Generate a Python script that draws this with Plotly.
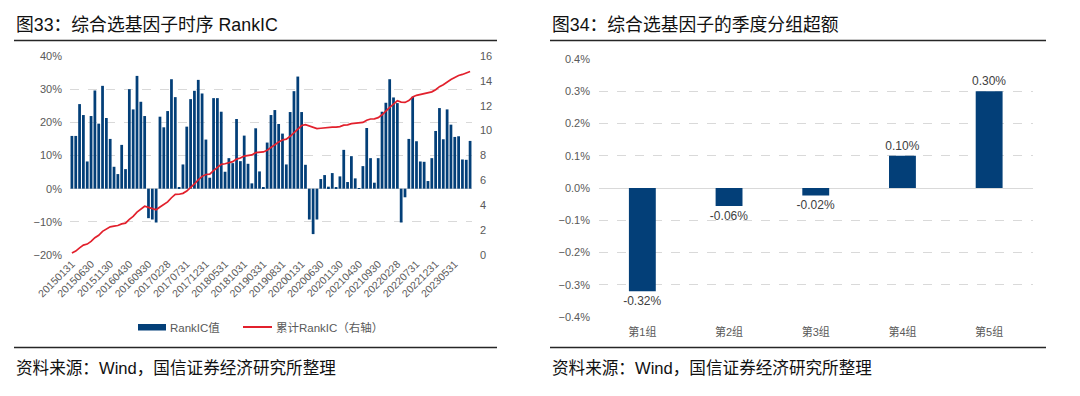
import numpy as np
import pandas as pd
import plotly.graph_objects as go

# ---------------- data ----------------
months = pd.date_range('2015-01-31', periods=105, freq=pd.offsets.MonthEnd())
dates = [d.strftime('%Y%m%d') for d in months]

# monthly RankIC (%)
rankic = [
    15.9, 15.9, 25.5, 22.2, 8.2, 21.9, 29.6, 19.6, 31.0, 21.3,
    15.0, 6.6, 4.4, 13.2, 5.9, 30.0, 23.9, 34.0, 26.2, 21.9,
    -8.9, -9.3, -10.2, 21.7, 18.5, 23.4, 33.0, 27.6, 0.4, 7.3,
    18.7, 27.0, 29.5, 32.8, 28.7, 14.8, 3.3, 27.3, 27.3, 23.2,
    5.1, 9.2, 7.7, 21.0, 8.3, 16.0, 7.5, 1.6, 18.2, 5.2,
    0.4, 13.9, 22.2, 23.7, 19.5, 16.6, 7.3, 23.1, 29.4, 33.8,
    23.1, 7.2, -9.3, -13.7, -9.3, 2.9, 4.1, 0.6, 4.7, 0.3,
    3.7, 11.7, 2.0, 9.8, 3.1, 0.1, 6.8, 18.3, 9.2, 1.8,
    9.2, 23.2, 25.9, 33.0, 27.5, 25.8, -10.2, -2.6, 15.0, 27.7,
    14.3, 8.2, 8.1, 2.3, 9.2, 17.4, 24.3, 14.9, 23.9, 19.3,
    15.6, 15.8, 8.8, 8.7, 14.4,
]
# cumulative RankIC (right axis) = running sum of the monthly RankIC
cum_rankic = np.cumsum(np.array(rankic) / 100.0)
tick_labels = dates[::5]

groups = ['第1组', '第2组', '第3组', '第4组', '第5组']
group_excess = [-0.32, -0.056, -0.023, 0.10, 0.30]   # %
group_text = [f'{v:.2f}%' for v in group_excess]

# ---------------- style ----------------
W, H = 1080, 396
NAVY = '#033F78'
RED = '#E2202C'
GRAY = '#595959'
GRID = '#D9D9D9'
FONT = 'Liberation Sans, Arial, Noto Sans CJK SC, sans-serif'


def px(x):
    return x / W


def py(y):
    return 1 - y / H


fig = go.Figure()

fig.add_trace(go.Bar(
    x=dates, y=rankic, xaxis='x', yaxis='y',
    marker=dict(color=NAVY, line=dict(width=0)),
    showlegend=False, name='RankIC值',
))
fig.add_trace(go.Scatter(
    x=dates, y=cum_rankic, xaxis='x', yaxis='y2', mode='lines',
    line=dict(color=RED, width=1.7), showlegend=False, name='累计RankIC（右轴）',
))
fig.add_trace(go.Bar(
    x=groups, y=group_excess, xaxis='x2', yaxis='y3',
    marker=dict(color=NAVY, line=dict(width=0)),
    text=group_text, textposition='outside', cliponaxis=False,
    constraintext='none', width=0.31,
    textfont=dict(size=12, color='#404040', family=FONT),
    showlegend=False,
))

tickfont = dict(size=11, color=GRAY, family=FONT)

fig.update_layout(
    width=W, height=H, autosize=False,
    margin=dict(l=0, r=0, t=0, b=0),
    paper_bgcolor='white', plot_bgcolor='white',
    font=dict(family=FONT, color=GRAY),
    barmode='group',
    xaxis=dict(
        domain=[px(70), px(472)], anchor='y', type='category',
        range=[-0.5, len(dates) - 0.5],
        tickmode='array', tickvals=tick_labels, ticktext=tick_labels,
        tickangle=-45, tickfont=dict(size=10.5, color=GRAY, family=FONT),
        showgrid=False, showline=False, zeroline=False, ticks='',
        automargin=False,
    ),
    yaxis=dict(
        domain=[py(255), py(56)], anchor='x',
        range=[-20, 40], dtick=10, ticksuffix='%',
        showgrid=True, gridcolor=GRID, griddash='dash', gridwidth=1,
        zeroline=True, zerolinecolor=GRID, zerolinewidth=1.2,
        showline=False, ticks='', tickfont=tickfont,
        ticklabelstandoff=7, automargin=False,
    ),
    yaxis2=dict(
        overlaying='y', anchor='x', side='right',
        range=[0, 16], dtick=2,
        showgrid=False, zeroline=False, showline=False, ticks='',
        tickfont=tickfont, ticklabelstandoff=7, automargin=False,
    ),
    xaxis2=dict(
        domain=[px(599), px(1032.5)], anchor='y3', type='category',
        showgrid=False, showline=False, zeroline=False, ticks='',
        tickfont=tickfont, ticklabelstandoff=7, automargin=False,
    ),
    yaxis3=dict(
        domain=[py(317), py(59)], anchor='x2',
        range=[-0.4, 0.4], dtick=0.1, tickformat='.1f', ticksuffix='%',
        showgrid=True, gridcolor=GRID, griddash='dash', gridwidth=1,
        zeroline=True, zerolinecolor=GRID, zerolinewidth=1.2,
        showline=False, ticks='', tickfont=tickfont,
        ticklabelstandoff=8, automargin=False,
    ),
    bargap=0.28,
)

shapes = []
annotations = []

# titles + rules
for x0, x1, title in [(14, 497, '图33：综合选基因子时序 RankIC'),
                      (550, 1046, '图34：综合选基因子的季度分组超额')]:
    annotations.append(dict(
        x=px(x0), y=py(25), xref='paper', yref='paper', text=title,
        showarrow=False, xanchor='left', yanchor='middle',
        font=dict(size=17.8, color='#111111', family=FONT),
    ))
    shapes.append(dict(type='line', xref='paper', yref='paper',
                       x0=px(x0), x1=px(x1), y0=py(40.5), y1=py(40.5),
                       line=dict(color='#262626', width=1.5)))
    shapes.append(dict(type='line', xref='paper', yref='paper',
                       x0=px(x0), x1=px(x1), y0=py(347.5), y1=py(347.5),
                       line=dict(color='#262626', width=1.5)))
    annotations.append(dict(
        x=px(x0), y=py(368), xref='paper', yref='paper',
        text='资料来源：Wind，国信证券经济研究所整理',
        showarrow=False, xanchor='left', yanchor='middle',
        font=dict(size=16.6, color='#111111', family=FONT),
    ))

# legend (left panel)
shapes.append(dict(type='rect', xref='paper', yref='paper',
                   x0=px(138), x1=px(166), y0=py(330.5), y1=py(324),
                   fillcolor=NAVY, line=dict(width=0)))
shapes.append(dict(type='line', xref='paper', yref='paper',
                   x0=px(243), x1=px(272), y0=py(327), y1=py(327),
                   line=dict(color=RED, width=2)))
annotations.append(dict(x=px(168), y=py(327.5), xref='paper', yref='paper',
                        text='RankIC值', showarrow=False, xanchor='left',
                        yanchor='middle',
                        font=dict(size=11.5, color=GRAY, family=FONT)))
annotations.append(dict(x=px(274), y=py(327.5), xref='paper', yref='paper',
                        text='累计RankIC（右轴）', showarrow=False, xanchor='left',
                        yanchor='middle',
                        font=dict(size=11.5, color=GRAY, family=FONT)))

fig.update_layout(shapes=shapes, annotations=annotations)

fig.write_html(
    'out.html',
    config={'displayModeBar': False},
    post_script="document.body.style.margin='0';document.body.style.padding='0';",
)
